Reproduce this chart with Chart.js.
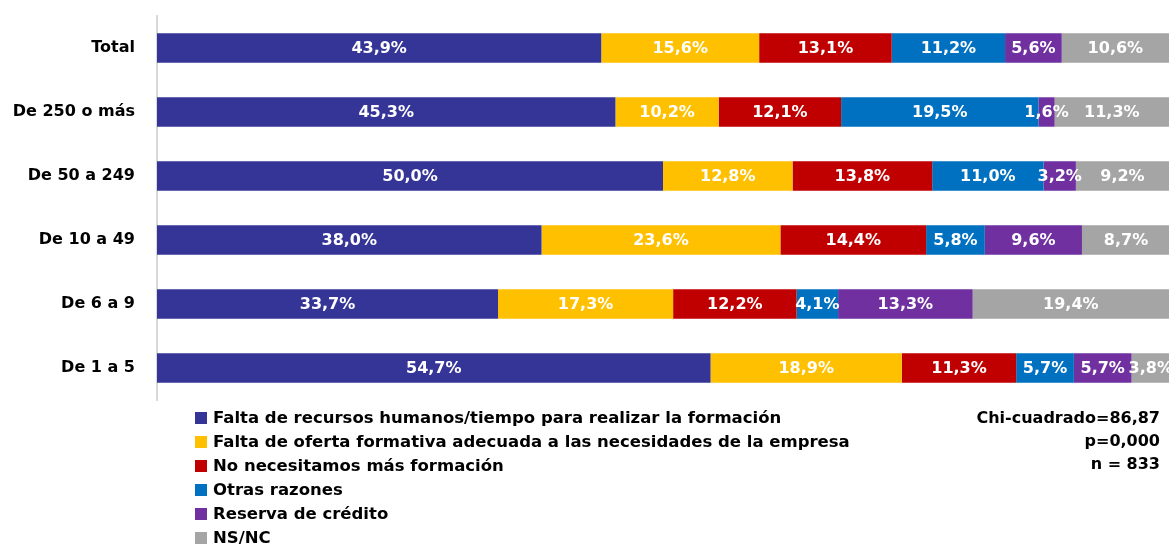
<!DOCTYPE html>
<html><head><meta charset="utf-8">
<script src="https://cdn.jsdelivr.net/npm/chart.js@4/dist/chart.umd.min.js"></script>
<style>html,body{margin:0;padding:0;background:#fff}#wrap{width:1169px;height:545px;position:relative}</style>
</head><body><div id="wrap"><canvas id="c" width="1169" height="545"></canvas></div>
<script>
const categories = ["Total", "De 250 o más", "De 50 a 249", "De 10 a 49", "De 6 a 9", "De 1 a 5"];
const seriesNames = [
  "Falta de recursos humanos/tiempo para realizar la formación",
  "Falta de oferta formativa adecuada a las necesidades de la empresa",
  "No necesitamos más formación",
  "Otras razones",
  "Reserva de crédito",
  "NS/NC"
];
const faltaRecursos = [43.9, 45.3, 50.0, 38.0, 33.7, 54.7];
const faltaOferta = [15.6, 10.2, 12.8, 23.6, 17.3, 18.9];
const noNecesitamos = [13.1, 12.1, 13.8, 14.4, 12.2, 11.3];
const otrasRazones = [11.2, 19.5, 11.0, 5.8, 4.1, 5.7];
const reservaCredito = [5.6, 1.6, 3.2, 9.6, 13.3, 5.7];
const nsnc = [10.6, 11.3, 9.2, 8.7, 19.4, 3.8];
const statsLines = ["Chi-cuadrado=86,87", "p=0,000", "n = 833"];

const seriesValues = [faltaRecursos, faltaOferta, noNecesitamos, otrasRazones, reservaCredito, nsnc];
const colors = ["#353598", "#FFC000", "#C00000", "#0070C0", "#7030A0", "#A5A5A5"];
const FONT = "'DejaVu Sans', Verdana, sans-serif";

const labelPlugin = {
  id: 'segLabels',
  afterDatasetsDraw(chart) {
    const ctx = chart.ctx;
    ctx.save();
    ctx.font = "bold 16px " + FONT;
    ctx.fillStyle = "#ffffff";
    ctx.textAlign = "center";
    ctx.textBaseline = "middle";
    chart.data.datasets.forEach((ds, di) => {
      const meta = chart.getDatasetMeta(di);
      meta.data.forEach((el, i) => {
        const v = ds.data[i];
        const cx = (el.x + el.base) / 2;
        ctx.fillText(v.toFixed(1).replace('.', ',') + '%', cx, el.y + 1);
      });
    });
    ctx.restore();
  }
};

const legendPlugin = {
  id: 'customLegend',
  afterDraw(chart) {
    const ctx = chart.ctx;
    ctx.save();
    ctx.font = "bold 16.5px " + FONT;
    ctx.textBaseline = "middle";
    ctx.textAlign = "left";
    chart.data.datasets.forEach((ds, i) => {
      const y = 418 + i * 24;
      ctx.fillStyle = ds.backgroundColor;
      ctx.fillRect(195, y - 6, 12, 12);
      ctx.fillStyle = "#000000";
      ctx.fillText(ds.label, 213, y + 1);
    });
    ctx.font = "bold 16px " + FONT;
    ctx.textAlign = "right";
    statsLines.forEach((t, i) => {
      ctx.fillText(t, 1160, 419 + i * 23);
    });
    ctx.restore();
  }
};

new Chart(document.getElementById('c'), {
  type: 'bar',
  data: {
    labels: categories,
    datasets: seriesValues.map((vals, i) => ({
      label: seriesNames[i],
      data: vals,
      backgroundColor: colors[i],
      borderWidth: 0,
      barPercentage: 0.46,
      categoryPercentage: 1.0
    }))
  },
  options: {
    indexAxis: 'y',
    responsive: false,
    animation: false,
    layout: { padding: { top: 16, bottom: 145, left: 0, right: 0 } },
    plugins: { legend: { display: false }, tooltip: { enabled: false } },
    scales: {
      x: { stacked: true, min: 0, max: 100, display: false },
      y: {
        stacked: true,
        grid: { display: false, drawTicks: false },
        border: { display: true, color: '#d9d9d9', width: 2 },
        ticks: { color: '#000', font: { family: FONT, size: 16, weight: 'bold' }, padding: 22 },
        afterFit(scale) { scale.width = 157; scale.paddingTop = 0; scale.paddingBottom = 0; }
      }
    }
  },
  plugins: [labelPlugin, legendPlugin]
});
</script>
</body></html>
